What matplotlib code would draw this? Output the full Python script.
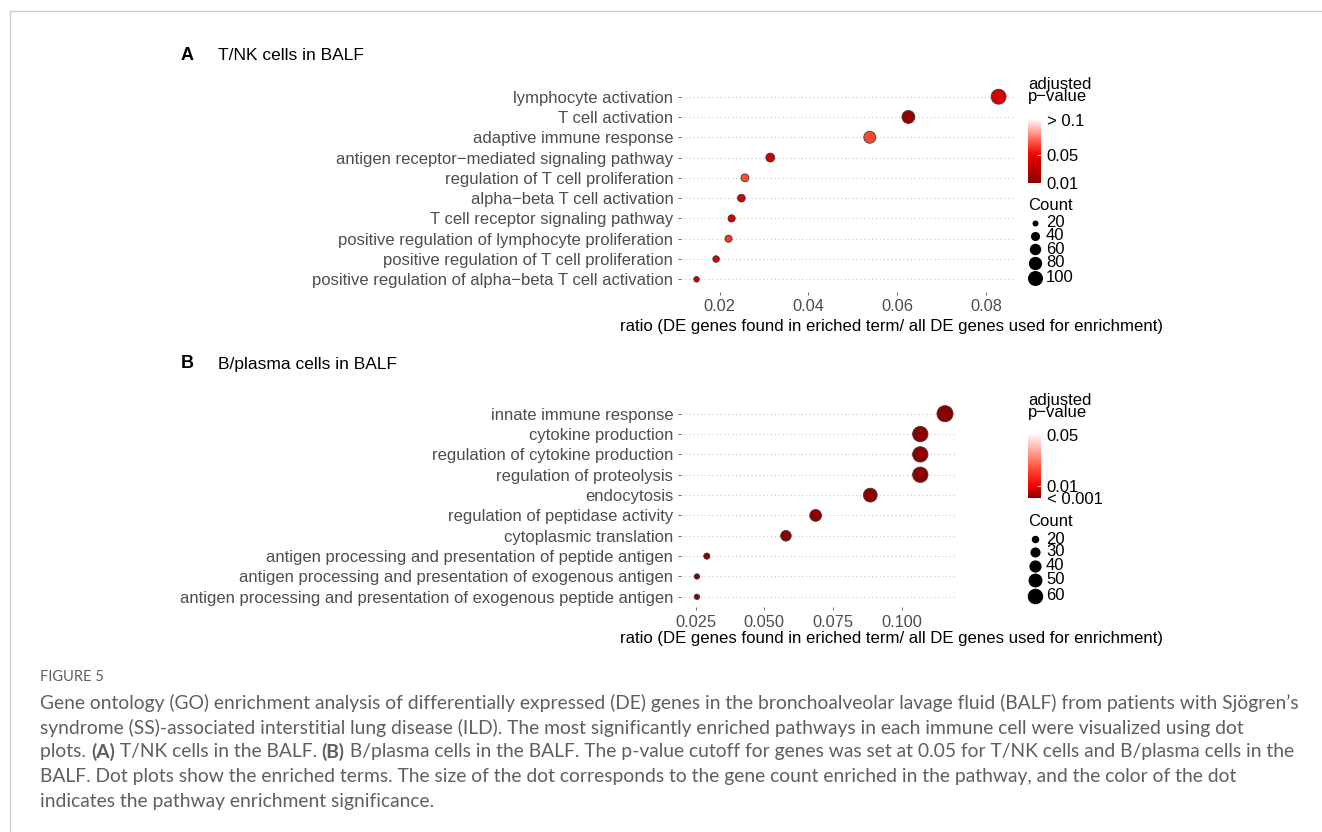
import matplotlib
matplotlib.use("Agg")
import matplotlib.pyplot as plt
import numpy as np
from matplotlib.colors import LinearSegmentedColormap, Normalize
from matplotlib.colorbar import ColorbarBase
from matplotlib.lines import Line2D

W, H = 1322, 832
PLOT_FONT = ["Liberation Sans", "DejaVu Sans"]
CAPTION_FONT = ["Lato", "DejaVu Sans"]

# ── Panel A: T/NK cells ─────────────────────────────────────────────────────
terms_a = [
    "lymphocyte activation",
    "T cell activation",
    "adaptive immune response",
    "antigen receptor\u2212mediated signaling pathway",
    "regulation of T cell proliferation",
    "alpha\u2212beta T cell activation",
    "T cell receptor signaling pathway",
    "positive regulation of lymphocyte proliferation",
    "positive regulation of T cell proliferation",
    "positive regulation of alpha\u2212beta T cell activation",
]
ratio_a = [0.0828, 0.0625, 0.0538, 0.0314, 0.0257, 0.0249, 0.0227, 0.0220, 0.0192, 0.0148]
count_a = [99, 75, 65, 38, 31, 30, 27, 26, 23, 18]
padj_a = [0.040, 0.015, 0.066, 0.036, 0.066, 0.040, 0.040, 0.062, 0.040, 0.040]
xticks_a = [0.02, 0.04, 0.06, 0.08]
size_breaks_a = [20, 40, 60, 80, 100]

# ── Panel B: B/plasma cells ─────────────────────────────────────────────────
terms_b = [
    "innate immune response",
    "cytokine production",
    "regulation of cytokine production",
    "regulation of proteolysis",
    "endocytosis",
    "regulation of peptidase activity",
    "cytoplasmic translation",
    "antigen processing and presentation of peptide antigen",
    "antigen processing and presentation of exogenous antigen",
    "antigen processing and presentation of exogenous peptide antigen",
]
ratio_b = [0.1158, 0.1068, 0.1068, 0.1068, 0.0886, 0.0687, 0.0579, 0.0291, 0.0255, 0.0255]
count_b = [64, 59, 59, 59, 49, 38, 32, 16, 14, 14]
padj_b = [0.0012, 0.0012, 0.0012, 0.0012, 0.0015, 0.0015, 0.0015, 0.0015, 0.0015, 0.0015]
xticks_b = [0.025, 0.050, 0.075, 0.100]
size_breaks_b = [20, 30, 40, 50, 60]

XLABEL = "ratio (DE genes found in eriched term/ all DE genes used for enrichment)"

caption_lines = [
    "Gene ontology (GO) enrichment analysis of differentially expressed (DE) genes in the bronchoalveolar lavage fluid (BALF) from patients with Sj\u00f6gren\u2019s",
    "syndrome (SS)-associated interstitial lung disease (ILD). The most significantly enriched pathways in each immune cell were visualized using dot",
    None,  # line with bold panel letters, built below
    "BALF. Dot plots show the enriched terms. The size of the dot corresponds to the gene count enriched in the pathway, and the color of the dot",
    "indicates the pathway enrichment significance.",
]

cmap_a = LinearSegmentedColormap.from_list(
    "padj_a", [(0.0, "#8B0000"), (0.444, "#EE0000"), (0.62, "#FF4830"), (1.0, "#FFF4F4")])
cmap_b = LinearSegmentedColormap.from_list(
    "padj_b", [(0.0, "#8B0000"), (0.184, "#EE0000"), (0.45, "#FF4830"), (1.0, "#FFF4F4")])


def fx(px):
    return px / W


def fy(py):
    return 1 - py / H


def add_axes_px(fig, left, top, right, bottom):
    return fig.add_axes([fx(left), fy(bottom), (right - left) / W, (bottom - top) / H])


def diam(counts, lo, hi):
    # area grows linearly with count between two reference sizes (px)
    (c0, d0), (c1, d1) = lo, hi
    c = np.asarray(counts, dtype=float)
    d2 = d0 ** 2 + (d1 ** 2 - d0 ** 2) * (c - c0) / (c1 - c0)
    return np.sqrt(np.maximum(d2, 4.0))


def to_s(d_px):
    return (np.asarray(d_px) * 72 / 100) ** 2


def dotplot(ax, terms, ratio, count, padj, cmap, norm, xlim, xticks, xfmt, size_ref):
    n = len(terms)
    y = np.arange(n)[::-1]
    for yi in y:
        ax.axhline(yi, color="#c8c8c8", lw=0.8, ls=(0, (1, 2.5)), zorder=0)
    ax.scatter(ratio, y, s=to_s(diam(count, *size_ref)), c=cmap(norm(padj)),
               edgecolors="#3a3a3a", linewidths=0.6, zorder=3)
    ax.set_xlim(*xlim)
    ax.set_ylim(-0.6, n - 0.4)
    ax.set_yticks(y)
    ax.set_yticklabels(terms, family=PLOT_FONT, fontsize=12, color="#4d4d4d")
    ax.set_xticks(xticks)
    ax.set_xticklabels([xfmt.format(v) for v in xticks], family=PLOT_FONT,
                       fontsize=11.8, color="#4d4d4d")
    ax.tick_params(length=2.5, width=0.6, color="#555555", pad=3)
    for sp in ax.spines.values():
        sp.set_visible(False)
    ax.set_facecolor("none")


def legend_block(fig, title_y, cbar_top, count_y, cmap, norm, cticks, clabels,
                 breaks, size_ref, key_y):
    fig.text(fx(1028), fy(title_y), "adjusted\np\u2212value", family=PLOT_FONT, fontsize=12,
             va="center", ha="left", linespacing=0.75)
    cax = add_axes_px(fig, 1028, cbar_top, 1041, cbar_top + 63)
    cb = ColorbarBase(cax, cmap=cmap, norm=norm, orientation="vertical")
    cb.outline.set_visible(False)
    cb.set_ticks(cticks)
    cb.set_ticklabels(clabels)
    cax.tick_params(length=3, width=0.6, color="white", direction="in", pad=4, labelsize=12)
    for t in cax.get_yticklabels():
        t.set_family(PLOT_FONT)
    fig.text(fx(1028), fy(count_y), "Count", family=PLOT_FONT, fontsize=12,
             va="center", ha="left")
    d = diam(breaks, *size_ref)
    for b, di, yk in zip(breaks, d, key_y):
        overlay.scatter([1035], [yk], s=to_s(di), color="black", lw=0)
        fig.text(fx(1046), fy(yk), str(b), family=PLOT_FONT, fontsize=12,
                 va="center", ha="left")


fig = plt.figure(figsize=(W / 100, H / 100), dpi=100)
fig.patch.set_facecolor("white")

overlay = fig.add_axes([0, 0, 1, 1], zorder=5)
overlay.set_xlim(0, W)
overlay.set_ylim(H, 0)
overlay.axis("off")

# page frame
fig.add_artist(Line2D([fx(10), fx(10)], [fy(11), 0], color="#cccccc", lw=1))
fig.add_artist(Line2D([fx(10), 1], [fy(11), fy(11)], color="#cccccc", lw=1))

size_ref_a = ((20, 6.0), (100, 15.0))
size_ref_b = ((20, 7.5), (60, 15.5))
norm_a = Normalize(0.01, 0.1)
norm_b = Normalize(0.001, 0.05)

ax_a = add_axes_px(fig, 681, 84.5, 1015, 291.5)
dotplot(ax_a, terms_a, ratio_a, count_a, padj_a, cmap_a, norm_a,
        (0.0113, 0.0865), xticks_a, "{:.2f}", size_ref_a)
ax_b = add_axes_px(fig, 681, 401.5, 956, 607)
dotplot(ax_b, terms_b, ratio_b, count_b, padj_b, cmap_b, norm_b,
        (0.0197, 0.1198), xticks_b, "{:.3f}", size_ref_b)
ax_b.set_ylim(-0.5, len(terms_b) - 0.4)

for ypx in (326, 639):
    fig.text(fx(891), fy(ypx), XLABEL, family=PLOT_FONT, fontsize=12.1,
             ha="center", va="center")

for letter, title, ypx in (("A", "T/NK cells in BALF", 55), ("B", "B/plasma cells in BALF", 364)):
    fig.text(fx(181), fy(ypx), letter, family=PLOT_FONT, fontsize=13, weight="bold",
             ha="left", va="center")
    fig.text(fx(218), fy(ypx), title, family=PLOT_FONT, fontsize=12.5, ha="left", va="center")

legend_block(fig, 91, 120, 205, cmap_a, norm_a, [0.01, 0.05, 0.1], ["0.01", "0.05", "> 0.1"],
             size_breaks_a, size_ref_a, [222.5, 235.5, 249, 262.5, 277.5])
legend_block(fig, 407, 435, 522, cmap_b, norm_b, [0.001, 0.01, 0.05], ["< 0.001", "0.01", "0.05"],
             size_breaks_b, size_ref_b, [539, 552, 565.5, 580, 596])

# caption
cap_color = "#5f5f5f"
cap_size = 13.9
fig.text(fx(40), fy(677), "FIGURE 5", family=CAPTION_FONT, fontsize=10.5, color=cap_color,
         va="center", ha="left")
line_y = [703, 727.5, 752, 776.5, 801]
for txt, yp in zip(caption_lines, line_y):
    if txt is None:
        continue
    fig.text(fx(40), fy(yp), txt, family=CAPTION_FONT, fontsize=cap_size, color=cap_color,
             va="center", ha="left")

# third caption line mixes bold letters with regular text
parts = [("plots. ", "normal"), ("(A)", "bold"), (" T/NK cells in the BALF. ", "normal"),
         ("(B)", "bold"),
         (" B/plasma cells in the BALF. The p-value cutoff for genes was set at 0.05 for T/NK cells and B/plasma cells in the",
          "normal")]
fig.canvas.draw()
renderer = fig.canvas.get_renderer()
xpos = 40.0
for txt, wt in parts:
    t = fig.text(fx(xpos), fy(line_y[2]), txt, family=CAPTION_FONT, fontsize=cap_size,
                 color=cap_color, weight=wt, va="center", ha="left")
    xpos += t.get_window_extent(renderer).width

fig.savefig("out.png", dpi=100)
